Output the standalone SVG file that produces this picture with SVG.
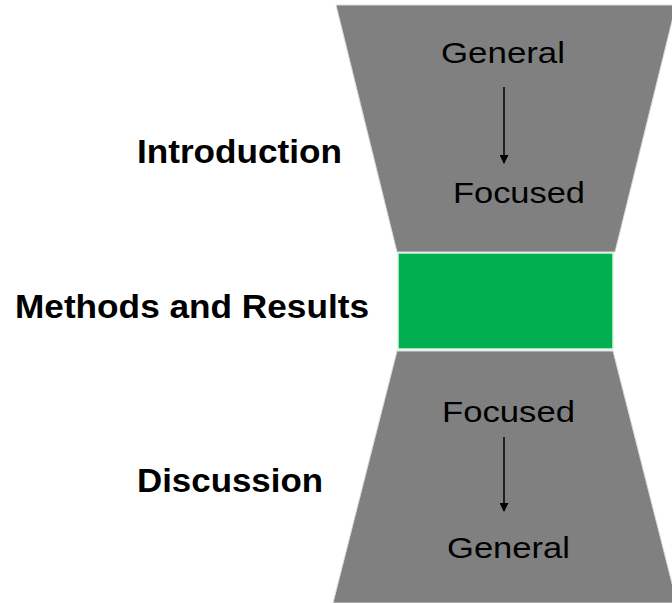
<svg xmlns="http://www.w3.org/2000/svg" width="672" height="603" viewBox="0 0 672 603">
<style>
.shape{fill:#808080;stroke:#d9d9d9;stroke-width:1}
.green{fill:#00B050;stroke:#d9f0e0;stroke-width:1.5}
.lbl{font-family:"Liberation Sans",Arial,sans-serif;font-weight:bold;font-size:33px;fill:#000}
.in{font-family:"Liberation Sans",Arial,sans-serif;font-size:30px;fill:#000;text-anchor:start}
.arr{stroke:#000;stroke-width:1.5;fill:none;marker-end:url(#ah)}
</style>
<defs>
<marker id="ah" viewBox="0 0 10 10" refX="9" refY="5" markerWidth="10" markerHeight="9" markerUnits="userSpaceOnUse" orient="auto">
<path d="M0,0 L10,5 L0,10 z" fill="#000"/>
</marker>
</defs>
<rect width="672" height="603" fill="#fff"/>
<g id="intro">
<polygon class="shape" points="336,5 676,5 615,252 397,252"/>
<text class="in" x="441" y="63" textLength="124" lengthAdjust="spacingAndGlyphs">General</text>
<text class="in" x="453" y="203" textLength="132" lengthAdjust="spacingAndGlyphs">Focused</text>
<text class="lbl" x="137" y="163" textLength="205" lengthAdjust="spacingAndGlyphs">Introduction</text>
</g>
<g id="methods">
<rect class="green" x="398" y="253" width="215" height="96"/>
<text class="lbl" x="15" y="318" textLength="354" lengthAdjust="spacingAndGlyphs">Methods and Results</text>
</g>
<g id="discussion">
<polygon class="shape" points="397,351 613,351 677,603 333,603"/>
<text class="in" x="442" y="422" textLength="133" lengthAdjust="spacingAndGlyphs">Focused</text>
<text class="in" x="447" y="558" textLength="123" lengthAdjust="spacingAndGlyphs">General</text>
<text class="lbl" x="137" y="492" textLength="186" lengthAdjust="spacingAndGlyphs">Discussion</text>
</g>
<g id="connectors">
<line class="arr" x1="504" y1="87" x2="504" y2="163"/>
<line class="arr" x1="504" y1="437" x2="504" y2="511"/>
</g>
</svg>
